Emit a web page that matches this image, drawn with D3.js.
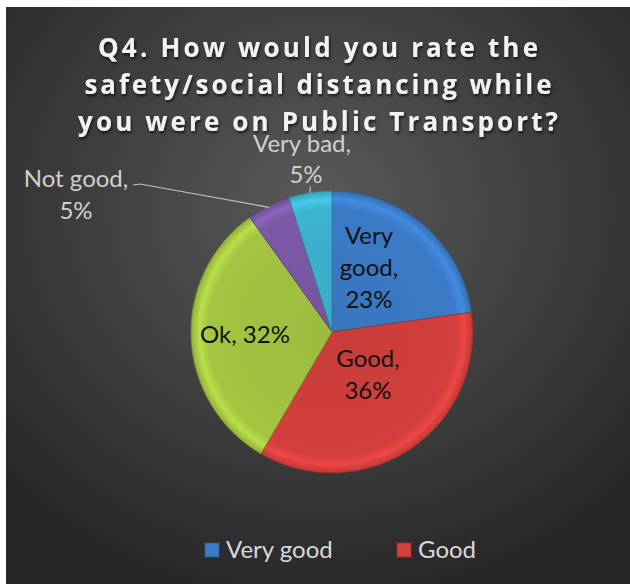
<!DOCTYPE html>
<html><head><meta charset="utf-8">
<script src="https://cdn.jsdelivr.net/npm/d3@7"></script>
<style>body{margin:0;background:#fff}svg{display:block}</style>
</head><body>
<svg id="c" width="630" height="584"></svg>
<script>
const categories = ["Very good", "Good", "Ok", "Not good", "Very bad"];
const values = [23, 36, 32, 5, 5];
const colors = ["#3b7bc6", "#d23f3c", "#a4c541", "#7c59a6", "#3cb3d0"];
const titleLines = ["Q4. How would you rate the", "safety/social distancing while", "you were on Public Transport?"];
const legendItems = ["Very good", "Good"];

const svg = d3.select("#c");
const defs = svg.append("defs");
const bg = defs.append("radialGradient").attr("id","bg").attr("cx","50%").attr("cy","35%").attr("r","70%");
bg.append("stop").attr("offset","0%").attr("stop-color","#5a5a5a");
bg.append("stop").attr("offset","100%").attr("stop-color","#262626");
svg.append("rect").attr("x",6).attr("y",7).attr("width",624).attr("height",577).attr("fill","url(#bg)");

const shadow = defs.append("filter").attr("id","ts").attr("x","-10%").attr("y","-30%").attr("width","120%").attr("height","160%");
shadow.append("feDropShadow").attr("dx",1).attr("dy",2).attr("stdDeviation",1.5).attr("flood-color","#000").attr("flood-opacity",0.7);

const cx = 332, cy = 332, R = 141;

colors.forEach((c,i)=>{
  const g = defs.append("radialGradient").attr("id","sg"+i).attr("gradientUnits","userSpaceOnUse")
    .attr("cx",0).attr("cy",0).attr("r",R);
  g.append("stop").attr("offset","0%").attr("stop-color",d3.color(c).darker(0.15));
  g.append("stop").attr("offset","88%").attr("stop-color",c);
  g.append("stop").attr("offset","94%").attr("stop-color",d3.color(c).brighter(0.35));
  g.append("stop").attr("offset","100%").attr("stop-color",d3.color(c).darker(0.3));
});

// title
const title = svg.append("g").attr("filter","url(#ts)");
const titleWidths = [440, 467, 480];
titleLines.forEach((t,i)=>{
  title.append("text").attr("x",318).attr("y",57+i*37).attr("text-anchor","middle")
    .attr("font-family","Open Sans, sans-serif").attr("font-weight","bold").attr("font-size",26)
    .attr("fill","#f2f2f2").attr("textLength",titleWidths[i]).attr("lengthAdjust","spacing").text(t);
});

const pie = d3.pie().sort(null).value(d=>d);
const arcs = pie(values);
const arc = d3.arc().innerRadius(0).outerRadius(R);
const g = svg.append("g").attr("transform",`translate(${cx},${cy})`);
g.selectAll("path").data(arcs).join("path")
  .attr("d",arc).attr("fill",(d,i)=>`url(#sg${i})`)
  .attr("stroke",(d,i)=>d3.color(colors[i]).darker(0.8)).attr("stroke-width",0.8);

const font = "Lato, Open Sans, sans-serif";
const fs = 24;
const insideLabels = [
  {lines:["Very", "good,", values[0]+"%"], x:369, y:244, dy:32},
  {lines:[categories[1]+",", values[1]+"%"], x:368, y:367, dy:32},
  {lines:[categories[2]+", "+values[2]+"%"], x:245, y:343, dy:30}
];
insideLabels.forEach(l=>{
  l.lines.forEach((t,k)=>{
    svg.append("text").attr("x",l.x).attr("y",l.y+k*l.dy).attr("text-anchor","middle")
      .attr("font-family",font).attr("font-size",fs).attr("fill","#111").text(t);
  });
});

const outCol = "#d0d0d0";
const lp = arcs[3], lpA = (lp.startAngle+lp.endAngle)/2;
svg.append("polyline").attr("points",`133,185 140,184 ${cx+Math.sin(lpA)*R*0.99},${cy-Math.cos(lpA)*R*0.99}`)
  .attr("fill","none").attr("stroke","#bfbfbf").attr("stroke-width",1.2);
[[categories[3]+",",76,187],[values[3]+"%",76,219]].forEach(([t,x,y])=>{
  svg.append("text").attr("x",x).attr("y",y).attr("text-anchor","middle")
    .attr("font-family",font).attr("font-size",fs).attr("fill",outCol).text(t);
});
const vb = arcs[4], vbA = (vb.startAngle+vb.endAngle)/2;
svg.append("line").attr("x1",cx+Math.sin(vbA)*R).attr("y1",cy-Math.cos(vbA)*R).attr("x2",cx+Math.sin(vbA)*R).attr("y2",cy-Math.cos(vbA)*R-6)
  .attr("stroke","#bfbfbf").attr("stroke-width",1.2);
[[categories[4]+",",302,152],[values[4]+"%",306,183]].forEach(([t,x,y])=>{
  svg.append("text").attr("x",x).attr("y",y).attr("text-anchor","middle")
    .attr("font-family",font).attr("font-size",fs).attr("fill",outCol).text(t);
});

const legX = [205, 397];
legendItems.forEach((t,i)=>{
  svg.append("rect").attr("x",legX[i]).attr("y",543).attr("width",14).attr("height",14)
    .attr("fill",colors[i]).attr("stroke",d3.color(colors[i]).darker(0.8)).attr("stroke-width",0.8);
  svg.append("text").attr("x",legX[i]+21).attr("y",558).attr("font-family",font).attr("font-size",fs)
    .attr("fill","#d9d9d9").text(t);
});
</script>
</body></html>
